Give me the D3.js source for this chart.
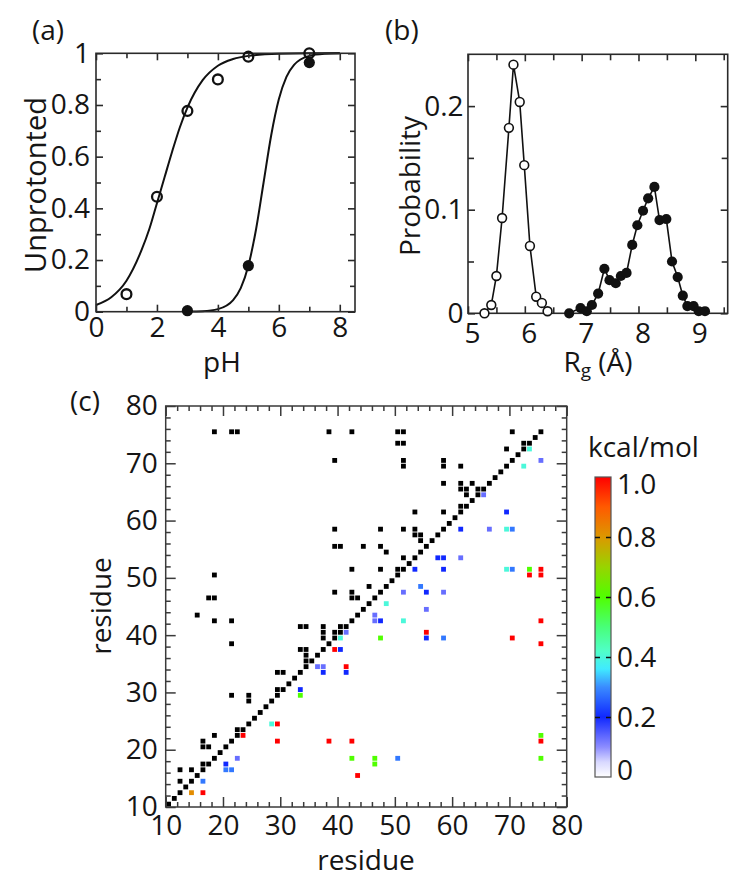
<!DOCTYPE html>
<html><head><meta charset="utf-8">
<script src="https://cdn.jsdelivr.net/npm/d3@7"></script>
<style>
body{margin:0;background:#fff}
svg{display:block}
text{font-family:"Open Sans",sans-serif;fill:#151515}
</style>
</head><body>
<svg id="chart" width="750" height="885"></svg>
<script>
// ---------- Panel (a) data ----------
const aOpenPH = [1, 2, 3, 4, 5, 7];
const aOpenFrac = [0.068, 0.445, 0.777, 0.899, 0.987, 1.0];
const aFilledPH = [3, 5, 7];
const aFilledFrac = [0.004, 0.178, 0.964];
const aFitOpenPH = [0, 0.5, 1, 1.5, 1.75, 2, 2.25, 2.5, 2.75, 3, 3.5, 4, 4.5, 5, 6, 7, 8];
const aFitOpenFrac = [0.026, 0.056, 0.12, 0.24, 0.32, 0.42, 0.52, 0.62, 0.713, 0.79, 0.896, 0.952, 0.978, 0.99, 0.998, 1, 1];
const aFitFilledPH = [3, 3.5, 4, 4.5, 4.75, 5, 5.25, 5.5, 5.75, 6, 6.25, 6.5, 7, 7.5, 8];
const aFitFilledFrac = [0.0005, 0.002, 0.01, 0.045, 0.091, 0.178, 0.317, 0.5, 0.683, 0.822, 0.909, 0.955, 0.99, 0.998, 1];
const aXTicks = [0, 2, 4, 6, 8];
const aXLabels = ["0", "2", "4", "6", "8"];
const aYTicks = [0, 0.2, 0.4, 0.6, 0.8, 1];
const aYLabels = ["0", "0.2", "0.4", "0.6", "0.8", "1"];

// ---------- Panel (b) data ----------
const bOpenRg = [5.29, 5.41, 5.50, 5.60, 5.72, 5.80, 5.91, 5.99, 6.09, 6.20, 6.30, 6.40];
const bOpenP = [0.000, 0.008, 0.036, 0.092, 0.179, 0.240, 0.204, 0.143, 0.065, 0.016, 0.010, 0.002];
const bFilledRg = [6.78, 6.98, 7.09, 7.18, 7.29, 7.40, 7.49, 7.60, 7.69, 7.79, 7.89, 7.98, 8.08, 8.17, 8.28, 8.37, 8.49, 8.59, 8.69, 8.78, 8.86, 8.97, 9.06, 9.17];
const bFilledP = [0.000, 0.005, 0.002, 0.008, 0.019, 0.043, 0.032, 0.029, 0.036, 0.039, 0.066, 0.085, 0.099, 0.111, 0.122, 0.090, 0.091, 0.050, 0.035, 0.017, 0.007, 0.007, 0.002, 0.002];
const bXTicks = [5, 6, 7, 8, 9];
const bXLabels = ["5", "6", "7", "8", "9"];
const bYTicks = [0, 0.1, 0.2];
const bYLabels = ["0", "0.1", "0.2"];

// ---------- Panel (c) data ----------
const cTicks = [10, 20, 30, 40, 50, 60, 70, 80];
const cLabels = ["10", "20", "30", "40", "50", "60", "70", "80"];
const diagonalResidues = [10,11,12,13,14,15,16,17,18,19,20,21,22,23,24,25,26,27,28,29,30,31,32,33,34,35,36,37,38,39,40,41,42,43,44,45,46,47,48,49,50,51,52,53,54,55,56,57,58,59,60,61,62,63,64,65,66,67,68,69,70,71,72,73,74,75];
// native contacts (upper triangle, black): [residue i (x), residue j (y)]
const contacts = [
  [18,75],[21,75],[22,75],[38,75],[42,75],[50,75],[51,75],[70,75],
  [50,73],[51,73],[72,73],[69,72],
  [39,70],[51,70],[58,70],[51,69],[58,69],[61,69],
  [58,66],[61,66],[63,66],[61,65],[62,65],[64,65],[62,64],[61,62],
  [53,61],[58,61],
  [39,58],[47,58],[51,58],[53,58],[53,57],[54,57],[54,56],
  [39,55],[40,55],[44,55],[47,55],[48,54],[51,53],
  [42,51],[47,51],[50,51],[18,50],
  [45,48],[39,47],[42,47],[17,46],[18,46],[42,46],[43,46],
  [15,43],[18,42],[21,42],
  [33,41],[34,41],[37,41],[40,41],[37,40],[39,40],[37,39],
  [21,38],[33,37],[34,37],[34,36],[34,35],
  [29,33],[30,33],[29,30],[21,29],[24,29],[24,28],
  [22,23],[18,22],[16,21],[16,20],[17,20],[16,17],
  [12,16],[14,16],[12,14]
];
// interaction energies (lower triangle): [i (x), j (y), kcal/mol]
const energies = [
  [14,12,0.82],[16,12,1.0],[16,14,0.28],
  [20,17,0.2],[20,16,0.28],[21,16,0.28],[22,18,0.13],
  [23,22,1.0],[28,24,0.4],[29,24,1.0],
  [29,21,1.0],[38,21,1.0],[42,21,1.0],[42,18,0.6],[43,15,1.0],
  [46,18,0.6],[46,17,0.6],[50,18,0.28],
  [33,30,0.2],[33,29,0.6],
  [36,34,0.13],[37,34,0.13],[37,33,0.2],[41,34,1.0],[41,33,0.2],
  [39,37,1.0],[40,37,0.2],[40,39,0.4],[41,40,0.13],
  [46,43,0.13],[46,42,0.13],[47,42,0.2],[47,39,0.6],[48,45,0.4],[51,42,0.4],
  [55,44,0.13],[55,40,1.0],[55,39,0.2],[58,39,0.28],[70,39,1.0],
  [75,42,1.0],[75,38,1.0],[75,22,0.6],[75,21,1.0],[75,18,0.6],
  [51,47,0.13],[54,48,0.28],[55,47,0.2],[58,47,0.13],
  [53,51,0.2],[58,51,0.2],[69,51,0.4],[70,51,0.28],[73,51,0.6],[73,50,1.0],[75,51,1.0],[75,50,1.0],
  [57,53,0.2],[58,53,0.2],[61,53,0.13],
  [61,58,0.2],[66,58,0.13],[69,58,0.4],[70,58,0.28],
  [69,61,0.2],[65,64,0.13],[73,72,0.4],[72,69,0.4],[75,70,0.13]
];
// colour bar
const cbStops = [0, 0.05, 0.1, 0.2, 0.3, 0.36, 0.42, 0.5, 0.6, 0.7, 0.8, 0.9, 1.0];
const cbColors = ["#ffffff", "#d8d8ff", "#8c8cff", "#1028ff", "#3a8cff", "#40eaff", "#50ffc8", "#48ff78", "#50ff00", "#98d400", "#dc9800", "#ff5a00", "#ff0000"];
const cbTicks = [0, 0.2, 0.4, 0.6, 0.8, 1.0];
const cbLabels = ["0", "0.2", "0.4", "0.6", "0.8", "1.0"];

// ---------- drawing ----------
const svg = d3.select("#chart");
const FS = 28;
const frameColor = "#2a2a2a";

function tickSet(g, axisFn, scale, vals, len, transform, color, width) {
  g.append("g").attr("transform", transform)
    .call(axisFn(scale).tickValues(vals).tickSizeInner(-len).tickSizeOuter(0).tickFormat(""))
    .call(s => s.select(".domain").remove())
    .call(s => s.selectAll("line").attr("stroke", color).attr("stroke-width", width));
}
function labelSet(g, axisFn, scale, vals, labels, pad, transform, dx) {
  g.append("g").attr("transform", transform)
    .call(axisFn(scale).tickValues(vals).tickSize(0).tickPadding(pad).tickFormat((d, i) => labels[i]))
    .call(s => s.select(".domain").remove())
    .call(s => s.selectAll("text").attr("font-size", FS).attr("font-family", "Open Sans, sans-serif")
      .attr("fill", "#151515").attr("dx", dx || 0));
}
function box(g, x, y, cfg) {
  const [x0, x1] = x.range(), [y0, y1] = y.range();
  const col = cfg.color || frameColor, w = cfg.width || 1.6;
  [[cfg.xMajor, cfg.majLen], [cfg.xMinor, cfg.minLen]].forEach(([v, l]) => {
    tickSet(g, d3.axisBottom, x, v, l, `translate(0,${y0})`, col, w);
    tickSet(g, d3.axisTop, x, v, l, `translate(0,${y1})`, col, w);
  });
  [[cfg.yMajor, cfg.majLen], [cfg.yMinor, cfg.minLen]].forEach(([v, l]) => {
    tickSet(g, d3.axisLeft, y, v, l, `translate(${x0},0)`, col, w);
    tickSet(g, d3.axisRight, y, v, l, `translate(${x1},0)`, col, w);
  });
  g.append("rect").attr("x", x0).attr("y", y1).attr("width", x1 - x0).attr("height", y0 - y1)
    .attr("fill", "none").attr("stroke", col).attr("stroke-width", w);
  labelSet(g, d3.axisBottom, x, cfg.xMajor, cfg.xLabels, cfg.xPad, `translate(0,${y0})`, cfg.xDx);
  labelSet(g, d3.axisLeft, y, cfg.yMajor, cfg.yLabels, cfg.yPad, `translate(${x0},0)`, 0);
}

// ----- Panel (a) -----
const xA = d3.scaleLinear([0, 8.5], [96, 355]);
const yA = d3.scaleLinear([0, 1], [311.7, 53.3]);
const gA = svg.append("g");
const lineA = d3.line().curve(d3.curveMonotoneX);
gA.append("path").attr("d", lineA(aFitOpenPH.map((p, i) => [xA(p), yA(aFitOpenFrac[i])])))
  .attr("fill", "none").attr("stroke", "#111").attr("stroke-width", 2);
gA.append("path").attr("d", lineA(aFitFilledPH.map((p, i) => [xA(p), yA(aFitFilledFrac[i])])))
  .attr("fill", "none").attr("stroke", "#111").attr("stroke-width", 2);
box(gA, xA, yA, {
  xMajor: aXTicks, xMinor: [1, 3, 5, 7], yMajor: aYTicks, yMinor: [0.1, 0.3, 0.5, 0.7, 0.9],
  majLen: 7, minLen: 5, xLabels: aXLabels, yLabels: aYLabels, xPad: 5, yPad: 6
});
gA.selectAll("circle.o").data(aOpenPH).join("circle")
  .attr("cx", d => xA(d)).attr("cy", (d, i) => yA(aOpenFrac[i])).attr("r", 4.9)
  .attr("fill", "none").attr("stroke", "#111").attr("stroke-width", 2.3);
gA.selectAll("circle.f").data(aFilledPH).join("circle")
  .attr("cx", d => xA(d)).attr("cy", (d, i) => yA(aFilledFrac[i])).attr("r", 5.6)
  .attr("fill", "#111");
gA.append("text").attr("x", 222).attr("y", 372).attr("text-anchor", "middle").attr("font-size", FS).text("pH");
gA.append("text").attr("transform", "translate(46,185) rotate(-90)").attr("text-anchor", "middle").attr("font-size", FS + 1).text("Unprotonted");
gA.append("text").attr("x", 32).attr("y", 40).attr("font-size", FS).text("(a)");

// ----- Panel (b) -----
const xB = d3.scaleLinear([5, 9.57], [468, 727.7]);
const yB = d3.scaleLinear([0, 0.25], [313.3, 54.3]);
const gB = svg.append("g");
const lineB = d3.line();
box(gB, xB, yB, {
  xMajor: bXTicks, xMinor: [5.5, 6.5, 7.5, 8.5, 9.5], yMajor: bYTicks, yMinor: [0.05, 0.15],
  majLen: 7, minLen: 6, xLabels: bXLabels, yLabels: bYLabels, xPad: 9.5, yPad: 4.5, xDx: 4
});
gB.append("path").attr("d", lineB(bOpenRg.map((r, i) => [xB(r), yB(bOpenP[i])])))
  .attr("fill", "none").attr("stroke", "#111").attr("stroke-width", 1.6);
gB.append("path").attr("d", lineB(bFilledRg.map((r, i) => [xB(r), yB(bFilledP[i])])))
  .attr("fill", "none").attr("stroke", "#111").attr("stroke-width", 1.6);
gB.selectAll("circle.o").data(bOpenRg).join("circle")
  .attr("cx", d => xB(d)).attr("cy", (d, i) => yB(bOpenP[i])).attr("r", 4.4)
  .attr("fill", "#fff").attr("stroke", "#111").attr("stroke-width", 1.6);
gB.selectAll("circle.f").data(bFilledRg).join("circle")
  .attr("cx", d => xB(d)).attr("cy", (d, i) => yB(bFilledP[i])).attr("r", 5.1)
  .attr("fill", "#111");
const rgLabel = gB.append("text").attr("x", 598).attr("y", 372).attr("text-anchor", "middle").attr("font-size", FS);
rgLabel.append("tspan").text("R");
rgLabel.append("tspan").attr("font-size", 19).attr("dy", 5).text("g");
rgLabel.append("tspan").attr("dy", -5).text(" (Å)");
gB.append("text").attr("transform", "translate(420,186) rotate(-90)").attr("text-anchor", "middle").attr("font-size", FS).text("Probability");
gB.append("text").attr("x", 385).attr("y", 40).attr("font-size", FS).text("(b)");

// ----- Panel (c) -----
const xC = d3.scaleLinear([10, 80], [165.7, 566.7]);
const yC = d3.scaleLinear([10, 80], [807, 406]);
const colorC = d3.scaleLinear().domain(cbStops).range(cbColors).clamp(true);
const gC = svg.append("g");
const inset = 0.45;
const cellW = xC(11) - xC(10) - 2 * inset;
const cellH = yC(10) - yC(11) - 2 * inset;
gC.selectAll("rect.e").data(energies).join("rect")
  .attr("x", d => xC(d[0]) + inset).attr("y", d => yC(d[1] + 1) + inset)
  .attr("width", cellW).attr("height", cellH).attr("fill", d => colorC(d[2]));
gC.selectAll("rect.c").data(contacts).join("rect")
  .attr("x", d => xC(d[0]) + inset).attr("y", d => yC(d[1] + 1) + inset)
  .attr("width", cellW).attr("height", cellH).attr("fill", "#000");
gC.selectAll("rect.d").data(diagonalResidues).join("rect")
  .attr("x", d => xC(d) + inset).attr("y", d => yC(d + 1) + inset)
  .attr("width", cellW).attr("height", cellH).attr("fill", "#000");
box(gC, xC, yC, {
  xMajor: cTicks, xMinor: d3.range(12, 80, 2).filter(v => v % 10), yMajor: cTicks, yMinor: d3.range(12, 80, 2).filter(v => v % 10),
  majLen: 10, minLen: 5, xLabels: cLabels, yLabels: cLabels, xPad: 8, yPad: 8,
  color: "#3a3a3a", width: 1.5
});
gC.append("text").attr("x", 366).attr("y", 870).attr("text-anchor", "middle").attr("font-size", FS).text("residue");
gC.append("text").attr("transform", "translate(111,606) rotate(-90)").attr("text-anchor", "middle").attr("font-size", FS).text("residue");
gC.append("text").attr("x", 70).attr("y", 411).attr("font-size", FS).text("(c)");

// ----- Colour bar -----
const cbScale = d3.scaleLinear([0, 1], [777, 477]);
const cbX = 595, cbW = 16;
const defs = svg.append("defs");
const grad = defs.append("linearGradient").attr("id", "cbgrad").attr("x1", 0).attr("y1", 1).attr("x2", 0).attr("y2", 0);
grad.selectAll("stop").data(cbStops).join("stop")
  .attr("offset", d => d).attr("stop-color", (d, i) => cbColors[i]);
const gK = svg.append("g");
gK.append("rect").attr("x", cbX).attr("y", cbScale(1)).attr("width", cbW).attr("height", cbScale(0) - cbScale(1))
  .attr("fill", "url(#cbgrad)").attr("stroke", "#555").attr("stroke-width", 1.2);
tickSet(gK, d3.axisLeft, cbScale, [0.2, 0.4, 0.6, 0.8], 5, `translate(${cbX},0)`, "#111", 1.5);
tickSet(gK, d3.axisRight, cbScale, [0.2, 0.4, 0.6, 0.8], 5, `translate(${cbX + cbW},0)`, "#111", 1.5);
gK.selectAll("text.cb").data(cbTicks).join("text")
  .attr("x", 617).attr("y", d => cbScale(d) + (d === 1 ? 7 : d === 0 ? -7 : 0)).attr("dy", "0.35em")
  .attr("font-size", FS).text((d, i) => cbLabels[i]);
gK.append("text").attr("x", 588).attr("y", 457).attr("font-size", FS).text("kcal/mol");
</script>
</body></html>
